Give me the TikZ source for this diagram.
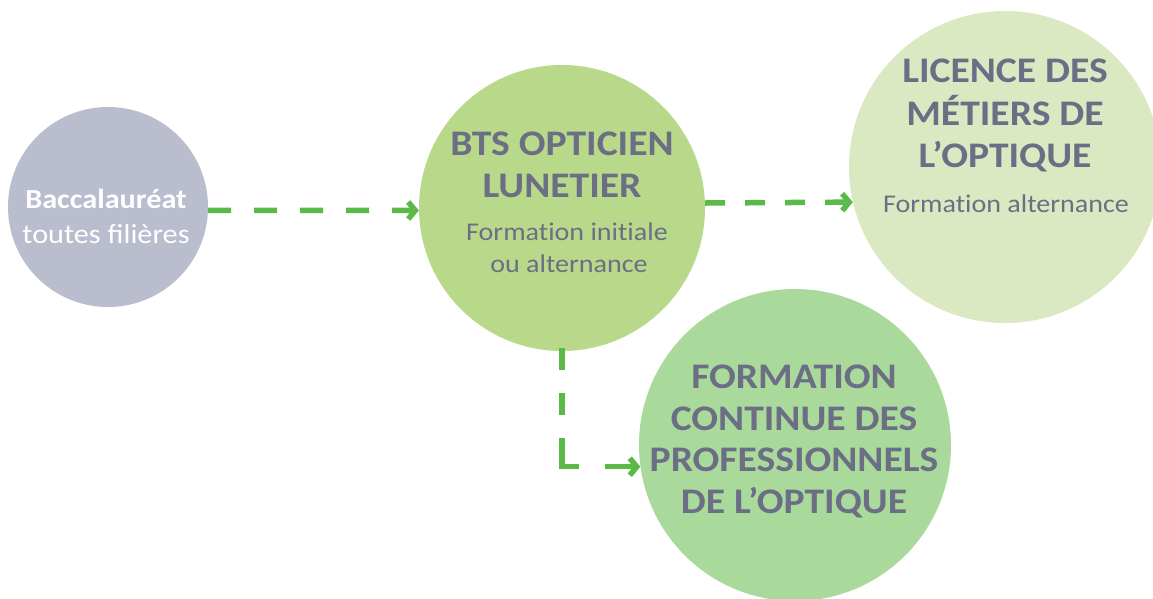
\documentclass[tikz,border=0pt]{standalone}
\usepackage{fontspec}
\setmainfont{Carlito}[FakeStretch=1.1]
\usetikzlibrary{arrows.meta}
\definecolor{bacfill}{HTML}{B9BDCD}
\definecolor{btsfill}{HTML}{B8D98A}
\definecolor{licfill}{HTML}{DAE9C2}
\definecolor{forfill}{HTML}{A9D99B}
\definecolor{txt}{HTML}{6B6E84}
\definecolor{arr}{HTML}{5BB947}
\tikzset{
  bubble/.style={circle, inner sep=0pt, draw=none},
  ttl/.style={anchor=base, inner sep=0pt, text=txt, font=\fontsize{36}{40}\selectfont\bfseries},
  sub/.style={anchor=base, inner sep=0pt, text=txt, font=\fontsize{25.5}{28}\selectfont},
  link/.style={draw=arr, line width=5.5pt, -{Straight Barb[length=7pt,width=17pt]}}
}
\begin{document}
\begin{tikzpicture}[x=1pt,y=-1pt]
\useasboundingbox (0,0) rectangle (1153,599);
\clip (0,0) rectangle (1153,599);
\fill[white] (0,0) rectangle (1153,599);
% circles
\node[bubble, fill=bacfill, minimum size=200pt] (a) at (108,207) {};
\node[bubble, fill=btsfill, minimum size=286pt] (b) at (562,208) {};
\node[bubble, fill=licfill, minimum size=312pt] (c) at (1005,167) {};
\node[bubble, fill=forfill, minimum size=312pt] (d) at (795,445) {};
% texts
\node[anchor=base, inner sep=0pt, text=white, font=\fontsize{27.5}{30}\selectfont\bfseries] (a1) at (106,208) {Baccalauréat};
\node[anchor=base, inner sep=0pt, text=white, font=\fontsize{27.5}{30}\selectfont] (a2) at (106,243) {toutes filières};
\node[ttl] (b1) at (562,155) {BTS OPTICIEN};
\node[ttl] (b2) at (562,197) {LUNETIER};
\node[sub] (b3) at (567,240) {Format\kern0pt ion init\kern0pt iale};
\node[sub] (b4) at (569,272) {ou alternance};
\node[ttl] (c1) at (1005,83) {LICENCE DES};
\node[ttl] (c2) at (1005,125) {MÉTIERS DE};
\node[ttl] (c3) at (1005,167) {L’OPTIQUE};
\node[sub] (c4) at (1006,212) {Format\kern0pt ion alternance};
\node[ttl] (d1) at (794,388) {FORMATION};
\node[ttl] (d2) at (794,430) {CONTINUE DES};
\node[ttl] (d3) at (794,471) {PROFESSIONNELS};
\node[ttl] (d4) at (794,513) {DE L’OPTIQUE};
% connectors
\draw[link, dash pattern=on 23pt off 23pt] (a.-2.3) -- (b.181.2);
\draw[link, dash pattern=on 20pt off 20pt] (b.2.4) -- (c.193);
\draw[link, dash pattern=on 22pt off 23pt on 22pt off 23pt on 46pt off 26pt on 60pt]
  ([yshift=3pt]b.south) |- (d.188.5);
\end{tikzpicture}
\end{document}
